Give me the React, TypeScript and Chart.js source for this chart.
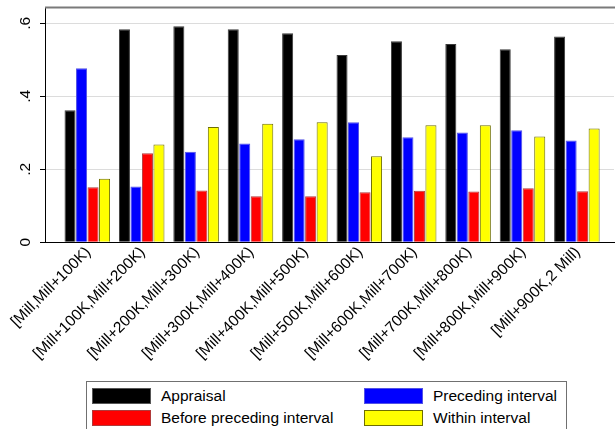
import React, { useEffect, useRef } from "react";
import { Chart, registerables } from "chart.js";

Chart.register(...registerables);

const categories = [
  "[Mill,Mill+100K)",
  "[Mill+100K,Mill+200K)",
  "[Mill+200K,Mill+300K)",
  "[Mill+300K,Mill+400K)",
  "[Mill+400K,Mill+500K)",
  "[Mill+500K,Mill+600K)",
  "[Mill+600K,Mill+700K)",
  "[Mill+700K,Mill+800K)",
  "[Mill+800K,Mill+900K)",
  "[Mill+900K,2 Mill)",
];

const appraisal = [0.362, 0.584, 0.592, 0.584, 0.573, 0.513, 0.551, 0.543, 0.529, 0.564];
const preceding = [0.477, 0.153, 0.248, 0.271, 0.282, 0.329, 0.288, 0.301, 0.307, 0.279];
const beforePreceding = [0.151, 0.244, 0.142, 0.126, 0.126, 0.137, 0.141, 0.139, 0.148, 0.14];
const within = [0.174, 0.268, 0.316, 0.325, 0.329, 0.236, 0.321, 0.321, 0.29, 0.312];

const yTicks = [0, 0.2, 0.4, 0.6];
const yTickLabels = ["0", ".2", ".4", ".6"];
const yMax = 0.6433;

const seriesNames = ["Appraisal", "Preceding interval", "Before preceding interval", "Within interval"];
const fills = ["#000000", "#0000ff", "#ff0000", "#ffff00"];
const borders = ["#3a3a3a", "#5252e6", "#b03a3a", "#6e6e00"];

const FONT = "'Liberation Sans', Arial, Helvetica, sans-serif";

const topBorder = {
  id: "topBorder",
  afterDraw(chart: any) {
    const { ctx, chartArea } = chart;
    ctx.save();
    ctx.strokeStyle = "#7a7a7a";
    ctx.lineWidth = 2;
    ctx.beginPath();
    ctx.moveTo(chartArea.left, chartArea.top);
    ctx.lineTo(chart.width, chartArea.top);
    ctx.stroke();
    ctx.restore();
  },
};

export default function App() {
  const ref = useRef<HTMLCanvasElement | null>(null);

  useEffect(() => {
    if (!ref.current) return;
    const data = [appraisal, preceding, beforePreceding, within];
    const chart = new Chart(ref.current, {
      type: "bar",
      data: {
        labels: categories,
        datasets: seriesNames.map((name, i) => ({
          label: name,
          data: data[i],
          backgroundColor: fills[i],
          borderColor: borders[i],
          borderWidth: 1,
          categoryPercentage: 0.846,
          barPercentage: 0.96,
        })),
      },
      plugins: [topBorder],
      options: {
        animation: false,
        responsive: true,
        maintainAspectRatio: false,
        layout: { padding: { top: 7.5, right: 1, left: 0, bottom: 0 } },
        plugins: {
          legend: { display: false },
          tooltip: { enabled: false },
        },
        scales: {
          x: {
            type: "category",
            offset: true,
            grid: { display: false, drawTicks: false },
            border: { display: true, color: "#000", width: 1 },
            ticks: {
              minRotation: 45,
              maxRotation: 45,
              autoSkip: false,
              padding: 1,
              labelOffset: 1,
              color: "#000",
              font: { family: FONT, size: 15.5 },
            },
            afterBuildTicks: (scale: any) => {
              scale._startValue = -0.7776;
              scale._valueRange = 10.46;
            },
            afterFit: (scale: any) => {
              scale.height = 429 - 242.3 - 0;
              scale.paddingLeft = 0;
              scale.paddingRight = 0;
            },
          },
          y: {
            min: 0,
            max: yMax,
            grid: { color: "#dcdcdc", lineWidth: 1, tickColor: "#000", tickLength: 5, drawTicks: true },
            border: { display: true, color: "#000", width: 1 },
            afterBuildTicks: (scale: any) => {
              scale.ticks = yTicks.map((v) => ({ value: v }));
            },
            ticks: {
              minRotation: 90,
              maxRotation: 90,
              crossAlign: "center",
              padding: 7.5,
              color: "#000",
              font: { family: FONT, size: 15.5 },
              callback: (v: any) => {
                const idx = yTicks.findIndex((t) => Math.abs(t - Number(v)) < 1e-6);
                return idx >= 0 ? yTickLabels[idx] : "";
              },
            },
            afterFit: (scale: any) => {
              scale.width = 45;
              scale.paddingTop = 0;
              scale.paddingBottom = 0;
            },
          },
        },
      },
    } as any);
    return () => chart.destroy();
  }, []);

  const swatch = (i: number) => (
    <span
      style={{
        display: "inline-block",
        boxSizing: "border-box",
        width: 59,
        height: 16,
        background: fills[i],
        border: `1px solid ${i === 0 ? "#555" : borders[i]}`,
        flex: "none",
      }}
    />
  );

  const item = (i: number, left: number, top: number) => (
    <div
      key={i}
      style={{
        position: "absolute",
        left,
        top,
        height: 16,
        display: "flex",
        alignItems: "center",
        whiteSpace: "nowrap",
      }}
    >
      {swatch(i)}
      <span style={{ marginLeft: 10, fontFamily: FONT, fontSize: 15.5, color: "#000", lineHeight: "16px" }}>
        {seriesNames[i]}
      </span>
    </div>
  );

  return (
    <div style={{ position: "fixed", left: 0, top: 0, width: 615, height: 429, overflow: "hidden", background: "#fff" }}>
      <div style={{ position: "absolute", left: 0, top: 0, width: 615, height: 429 }}>
        <canvas ref={ref} />
      </div>
      <div
        style={{
          position: "absolute",
          left: 86,
          top: 380.5,
          width: 481,
          height: 60,
          boxSizing: "border-box",
          border: "1px solid #707070",
          background: "#fff",
        }}
      >
        {item(0, 5, 6)}
        {item(2, 5, 28)}
        {item(1, 277, 6)}
        {item(3, 277, 28)}
      </div>
    </div>
  );
}
